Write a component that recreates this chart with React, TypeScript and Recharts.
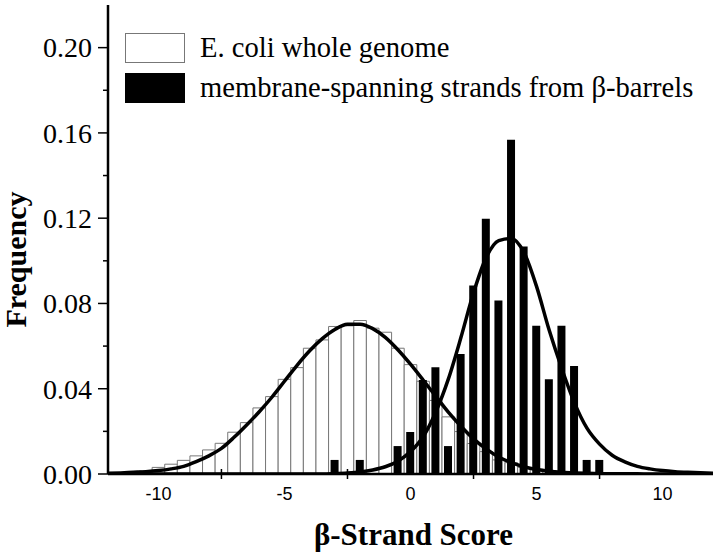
import { Bar, ComposedChart, Label, Legend, Line, XAxis, YAxis } from 'recharts';

const SERIF = '"Liberation Serif", "Times New Roman", serif';
const SANS = '"Liberation Sans", Arial, sans-serif';

// bin centres (score units)
const scores = [
  -12, -11.5, -11, -10.5, -10, -9.5, -9, -8.5, -8, -7.5, -7, -6.5, -6, -5.5, -5, -4.5, -4, -3.5, -3, -2.5, -2,
  -1.5, -1, -0.5, 0, 0.5, 1, 1.5, 2, 2.5, 3, 3.5, 4, 4.5, 5, 5.5, 6, 6.5, 7, 7.5, 8, 8.5, 9, 9.5, 10, 10.5, 11,
  11.5, 12,
];

// E. coli whole genome histogram
const genomeFreq = [
  null, 0.0005, 0.001, 0.0015, 0.0031, 0.0046, 0.0064, 0.0085, 0.0113, 0.0144, 0.0196, 0.0241, 0.031, 0.0363,
  0.0444, 0.0499, 0.059, 0.0629, 0.0692, 0.0695, 0.072, 0.0684, 0.0665, 0.059, 0.0513, 0.0435, 0.0345, 0.0268,
  0.0199, 0.0143, 0.0105, 0.0066, 0.0053, 0.0031, 0.0022, 0.0015, 0.001, 0.0005, null, null, null, null, null,
  null, null, null, null, null, null,
];

// membrane-spanning strands histogram
const barrelFreq = [
  null, null, null, null, null, null, null, null, null, null, null, null, null, null, null, null, null, null,
  0.0066, null, 0.0066, null, null, 0.0131, 0.0197, 0.0441, 0.0501, 0.0131, 0.0563, 0.0884, 0.1197, 0.0814,
  0.1568, 0.1067, 0.0695, 0.0444, 0.0695, 0.0507, 0.0066, 0.0066, null, null, null, null, null, null, null, null,
  null,
];

// fitted curves
const genomeFit = [
  0.0003, 0.0005, 0.0008, 0.0011, 0.0016, 0.0024, 0.0036, 0.0058, 0.0085, 0.012, 0.0172, 0.023, 0.0292, 0.036,
  0.0435, 0.051, 0.0578, 0.0635, 0.0678, 0.0702, 0.0703, 0.0682, 0.0641, 0.0583, 0.0515, 0.0441, 0.0365, 0.029,
  0.0224, 0.0165, 0.0118, 0.008, 0.0053, 0.0034, 0.0021, 0.0013, 0.0008, 0.0005, 0.0003, 0.0002, 0.0001, 0.0001,
  0.0001, 0, 0, 0, 0, 0, 0,
];

const barrelFit = [
  0, 0, 0, 0, 0, 0, 0, 0, 0, 0, 0, 0, 0, 0, 0, 0, 0, 0, 0.0002, 0.0005, 0.001, 0.0019, 0.0034, 0.006, 0.0105,
  0.0175, 0.029, 0.0445, 0.064, 0.085, 0.1015, 0.1095, 0.1105, 0.104, 0.088, 0.0675, 0.0495, 0.0335, 0.0215,
  0.014, 0.0088, 0.0057, 0.0036, 0.0024, 0.0016, 0.0011, 0.0008, 0.0006, 0.0004,
];

const xTicks = [-10, -7.5, -5, -2.5, 0, 2.5, 5, 7.5, 10];
const yTicks = [0, 0.02, 0.04, 0.06, 0.08, 0.1, 0.12, 0.14, 0.16, 0.18, 0.2];

const data = scores.map((score, i) => ({
  score,
  genome: genomeFreq[i],
  barrel: barrelFreq[i],
  genomeFit: genomeFit[i],
  barrelFit: barrelFit[i],
}));

const isMajorX = (v: number) => v % 5 === 0;
const isMajorY = (v: number) => Math.round(v * 100) % 4 === 0;

function BottomTick({ x, y, payload }: any) {
  const v = payload.value;
  if (isMajorX(v)) {
    return (
      <text x={x} y={y + 26} textAnchor="middle" fontFamily={SANS} fontSize={18} fill="#000">
        {v}
      </text>
    );
  }
  return <line x1={x} x2={x} y1={y - 5} y2={y + 5} stroke="#000" strokeWidth={1.5} />;
}

function TopTick({ x, y, payload }: any) {
  const len = isMajorX(payload.value) ? 10 : 6;
  return <line x1={x} x2={x} y1={y} y2={y + len} stroke="#000" strokeWidth={1.5} />;
}

function LeftTick({ x, y, payload }: any) {
  const v = payload.value;
  const major = isMajorY(v);
  return (
    <g>
      <line x1={x} x2={x - (major ? 10 : 5)} y1={y} y2={y} stroke="#000" strokeWidth={1.5} />
      {major && (
        <text x={x - 16} y={y} dy="0.35em" textAnchor="end" fontFamily={SERIF} fontSize={28} fill="#000">
          {v.toFixed(2)}
        </text>
      )}
    </g>
  );
}

function RightTick({ x, y }: any) {
  return <line x1={x} x2={x - 7} y1={y} y2={y} stroke="#000" strokeWidth={1.5} />;
}

function LegendBox({ payload }: any) {
  const items = (payload ?? []).filter((entry: any) => entry.type !== 'none' && entry.inactive !== true);
  return (
    <div style={{ display: 'flex', flexDirection: 'column', gap: 10 }}>
      {items.map((entry: any) => {
        const light = entry.color === '#ffffff';
        return (
          <div key={entry.value} style={{ display: 'flex', alignItems: 'center', height: 30 }}>
            <div
              style={{
                width: 58,
                height: 28,
                background: entry.color,
                border: `1px solid ${light ? '#777' : '#000'}`,
                marginRight: 15,
              }}
            />
            <span
              style={{ fontFamily: SERIF, fontSize: 28.6, color: '#000', whiteSpace: 'nowrap', lineHeight: '30px' }}
            >
              {entry.value}
            </span>
          </div>
        );
      })}
    </div>
  );
}

export default function App() {
  return (
    <div style={{ position: 'absolute', left: 0, top: 0, background: '#fff' }}>
      <ComposedChart width={720} height={553} data={data} margin={{ top: 5, right: 7, bottom: 0, left: 8 }}>
        <XAxis
          xAxisId="main"
          dataKey="score"
          type="number"
          domain={[-12, 12]}
          ticks={xTicks}
          interval={0}
          height={79}
          tickSize={0}
          tickMargin={0}
          tickLine={false}
          tick={BottomTick}
          axisLine={{ stroke: '#000', strokeWidth: 2.5 }}
          allowDataOverflow
        >
          <Label
            content={({ viewBox }: any) => (
              <text
                x={viewBox.x + viewBox.width / 2 + 3}
                y={viewBox.y + 71}
                textAnchor="middle"
                fontFamily={SERIF}
                fontWeight="bold"
                fontSize={31}
                fill="#000"
              >
                β-Strand Score
              </text>
            )}
          />
        </XAxis>
        <XAxis
          xAxisId="barrel"
          dataKey="score"
          type="number"
          domain={[-12, 12]}
          height={0}
          hide
          allowDataOverflow
        />
        <XAxis
          xAxisId="top"
          orientation="top"
          type="number"
          domain={[-12, 12]}
          ticks={xTicks}
          interval={0}
          height={0}
          tickSize={0}
          tickMargin={0}
          tickLine={false}
          tick={TopTick}
          axisLine={{ stroke: '#000', strokeWidth: 2 }}
          allowDataOverflow
        />
        <YAxis
          yAxisId="left"
          type="number"
          domain={[0, 0.22]}
          ticks={yTicks}
          interval={0}
          width={100}
          tickSize={0}
          tickMargin={0}
          tickLine={false}
          tick={LeftTick}
          axisLine={{ stroke: '#000', strokeWidth: 2.5 }}
          allowDataOverflow
        >
          <Label
            content={({ viewBox }: any) => {
              const cx = viewBox.x + 18;
              const cy = viewBox.y + viewBox.height / 2 + 20;
              return (
                <text
                  x={cx}
                  y={cy}
                  transform={`rotate(-90 ${cx} ${cy})`}
                  textAnchor="middle"
                  fontFamily={SERIF}
                  fontWeight="bold"
                  fontSize={30}
                  fill="#000"
                >
                  Frequency
                </text>
              );
            }}
          />
        </YAxis>
        <YAxis
          yAxisId="right"
          orientation="right"
          type="number"
          domain={[0, 0.22]}
          ticks={yTicks}
          interval={0}
          width={0}
          tickSize={0}
          tickMargin={0}
          tickLine={false}
          tick={RightTick}
          axisLine={{ stroke: '#000', strokeWidth: 2 }}
          allowDataOverflow
        />
        <Legend
          layout="vertical"
          align="center"
          verticalAlign="middle"
          wrapperStyle={{ left: 125, top: 33, width: 'auto' }}
          content={LegendBox}
        />
        <Bar
          xAxisId="main"
          yAxisId="left"
          dataKey="genome"
          name="E. coli whole genome"
          fill="#ffffff"
          stroke="#777"
          strokeWidth={1}
          barSize={12.6}
          isAnimationActive={false}
        />
        <Bar
          xAxisId="barrel"
          yAxisId="left"
          dataKey="barrel"
          name="membrane-spanning strands from β-barrels"
          fill="#000000"
          barSize={8}
          isAnimationActive={false}
        />
        <Line
          xAxisId="main"
          yAxisId="left"
          dataKey="genomeFit"
          type="monotone"
          stroke="#000"
          strokeWidth={3.5}
          dot={false}
          activeDot={false}
          legendType="none"
          isAnimationActive={false}
        />
        <Line
          xAxisId="main"
          yAxisId="left"
          dataKey="barrelFit"
          type="monotone"
          stroke="#000"
          strokeWidth={3.5}
          dot={false}
          activeDot={false}
          legendType="none"
          isAnimationActive={false}
        />
      </ComposedChart>
    </div>
  );
}
